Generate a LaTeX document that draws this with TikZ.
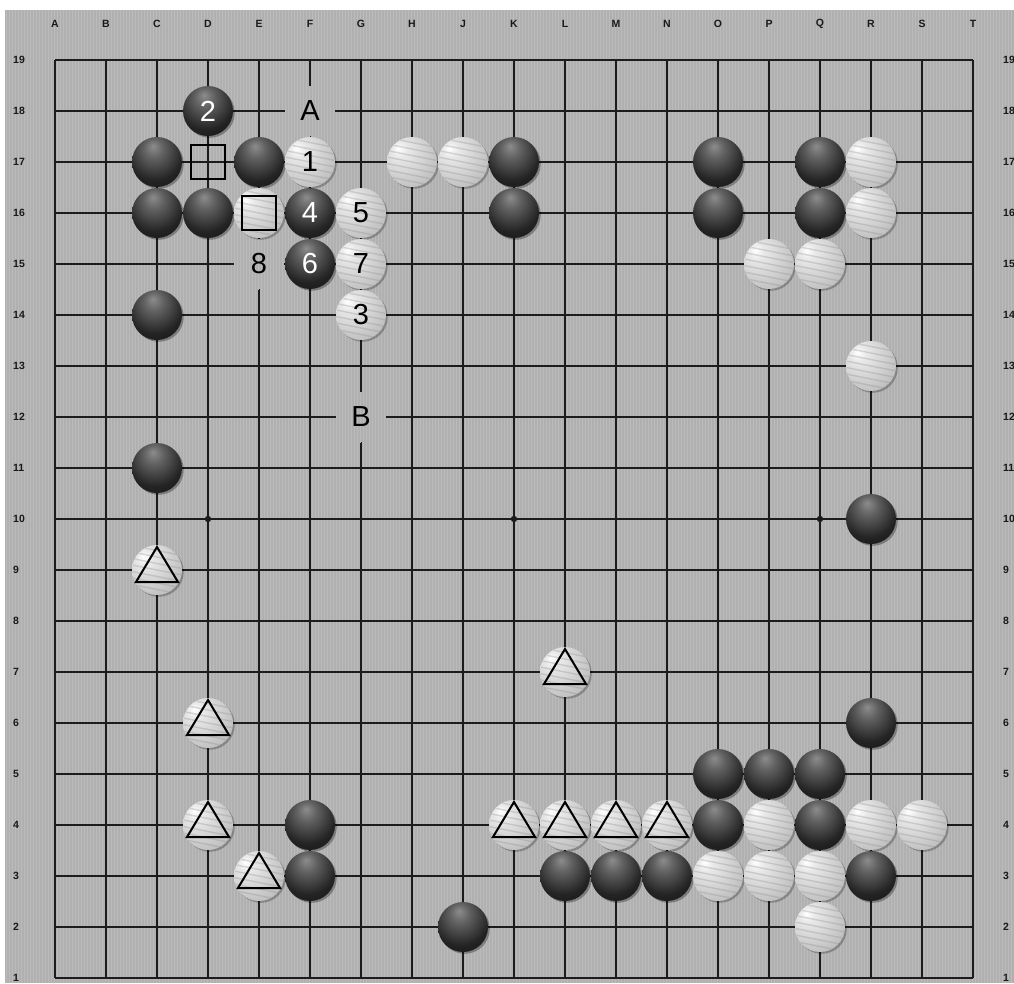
\documentclass[tikz,border=0pt]{standalone}
\usepackage{fontspec}
\setmainfont{Liberation Sans}
\definecolor{boardbase}{HTML}{B0B0B0}
\definecolor{boardstripe}{HTML}{BBBBBB}
\definecolor{gridcol}{HTML}{1C1C1C}
\pgfdeclareradialshading{blackstone}{\pgfpoint{-4bp}{16bp}}{color(0bp)=(black!45); color(10bp)=(black!62); color(28bp)=(black!86); color(50bp)=(black!96); color(70bp)=(black)}
\pgfdeclareradialshading{whitestone}{\pgfpoint{-14bp}{14bp}}{color(0bp)=(white); color(8bp)=(black!9); color(30bp)=(black!22); color(55bp)=(black!36); color(75bp)=(black!48)}
\tikzset{
  gridline/.style={gridcol, line width=1.4pt},
  bstone/.pic={
    \fill[black,opacity=.3] (1.8,1.8) circle (25);
    \shade[shading=blackstone] (0,0) circle (25);
  },
  wstone/.pic={
    \fill[black,opacity=.25] (1.8,1.8) circle (25);
    \shade[shading=whitestone] (0,0) circle (25);
    \begin{scope}
      \clip (0,0) circle (24.5);
      \foreach \k in {-6,...,6}
        \draw[black!45,opacity=.3,line width=1.4pt] (-30,{\k*6.5-6}) -- (30,{\k*6.5+6});
    \end{scope}
  },
  tri/.pic={
    \draw[black,line width=2pt,line join=miter] (-21,12) -- (21,12) -- (0,-23) -- cycle;
  },
  sqmark/.pic={
    \draw[black,line width=2pt] (-17,-17) rectangle (17,17);
  },
  bnum/.style={text=white,font=\fontsize{29}{29}\selectfont,inner sep=0pt},
  wnum/.style={text=black,font=\fontsize{29}{29}\selectfont,inner sep=0pt},
  coordlab/.style={text=black!90,font=\fontsize{10.5}{10.5}\selectfont\bfseries,inner sep=0pt},
}
\newcommand\boardgap[2]{%
  \begin{scope}
    \clip ({#1-25},{#2-25}) rectangle ++(50,50);
    \fill[boardbase] ({#1-25},{#2-25}) rectangle ++(50,50);
    \foreach \x in {6,9,...,1013} \draw[boardstripe,line width=1pt] (\x,{#2-26}) -- (\x,{#2+26});
  \end{scope}}
\begin{document}
\begin{tikzpicture}[x=1pt,y=-1pt]
\useasboundingbox (0,0) rectangle (1014,983);
\clip (0,0) rectangle (1014,983);
\fill[white] (0,0) rectangle (1014,983);
\fill[boardbase] (5,10) rectangle (1014,983);
\foreach \x in {6,9,...,1013} \draw[boardstripe,line width=1pt] (\x,10) -- (\x,983);
% grid
\foreach \i in {0,...,18} {
  \draw[gridline] ({55+\i*51},60) -- ({55+\i*51},978);
  \draw[gridline] (55,{60+\i*51}) -- (973,{60+\i*51});
}
% star points
\foreach \c/\r in {4/10,10/10,16/10,4/4,10/4,16/4,4/16,10/16,16/16}
  \fill[gridcol] ({55+(\c-1)*51},{60+(19-\r)*51}) circle (3.2);
% coordinate labels
\foreach \c/\t [count=\n] in {1/A,2/B,3/C,4/D,5/E,6/F,7/G,8/H,9/J,10/K,11/L,12/M,13/N,14/O,15/P,16/Q,17/R,18/S,19/T}
  \node[coordlab] (col\n) at ({55+(\c-1)*51},24) {\t};
\foreach \r in {1,...,19} {
  \node[coordlab,anchor=west] (rl\r) at (13,{60+(19-\r)*51}) {\r};
  \node[coordlab,anchor=west] (rr\r) at (1003,{60+(19-\r)*51}) {\r};
}
% letter labels on empty points
\boardgap{310}{111}
\node[wnum] (labA) at (310,111) {A};
\boardgap{361}{417}
\node[wnum] (labB) at (361,417) {B};
\boardgap{259}{264}
\node[wnum] (lab8) at (259,264) {8};
% black stones
\foreach \c/\r in {4/18,3/17,5/17,3/16,4/16,6/16,6/15,10/17,10/16,14/17,14/16,16/17,16/16,3/14,3/11,17/10,17/6,14/5,15/5,16/5,14/4,16/4,6/4,6/3,11/3,12/3,13/3,17/3,9/2}
  \pic at ({55+(\c-1)*51},{60+(19-\r)*51}) {bstone};
% white stones
\foreach \c/\r in {6/17,8/17,9/17,5/16,7/16,7/15,7/14,17/17,17/16,15/15,16/15,17/13,3/9,11/7,4/6,4/4,5/3,10/4,11/4,12/4,13/4,15/4,17/4,18/4,14/3,15/3,16/3,16/2}
  \pic at ({55+(\c-1)*51},{60+(19-\r)*51}) {wstone};
% numbers
\node[bnum] (m2) at ({55+3*51},{60+1*51}) {2};
\node[bnum] (m4) at ({55+5*51},{60+3*51}) {4};
\node[bnum] (m6) at ({55+5*51},{60+4*51}) {6};
\node[wnum] (m1) at ({55+5*51},{60+2*51}) {1};
\node[wnum] (m5) at ({55+6*51},{60+3*51}) {5};
\node[wnum] (m7) at ({55+6*51},{60+4*51}) {7};
\node[wnum] (m3) at ({55+6*51},{60+5*51}) {3};
% triangles
\foreach \c/\r in {3/9,11/7,4/6,4/4,5/3,10/4,11/4,12/4,13/4}
  \pic at ({55+(\c-1)*51},{60+(19-\r)*51}) {tri};
% squares
\foreach \c/\r in {5/16,4/17}
  \pic at ({55+(\c-1)*51},{60+(19-\r)*51}) {sqmark};
\end{tikzpicture}
\end{document}
